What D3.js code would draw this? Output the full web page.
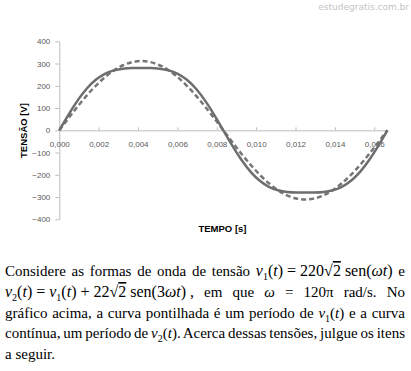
<!DOCTYPE html>
<html>
<head>
<meta charset="utf-8">
<script src="https://cdn.jsdelivr.net/npm/d3@7"></script>
<style>
  body { margin: 0; background: #fff; }
  svg { display: block; }
</style>
</head>
<body>
<div id="graph"></div>
<script>
"use strict";

var width = 411,
    height = 371;

// um período (1/60 s), amostras a cada 10 graus
const tempo = [0.000000, 0.000463, 0.000926, 0.001389, 0.001852, 0.002315, 0.002778, 0.003241,
    0.003704, 0.004167, 0.004630, 0.005093, 0.005556, 0.006019, 0.006481, 0.006944, 0.007407,
    0.007870, 0.008333, 0.008796, 0.009259, 0.009722, 0.010185, 0.010648, 0.011111, 0.011574,
    0.012037, 0.012500, 0.012963, 0.013426, 0.013889, 0.014352, 0.014815, 0.015278, 0.015741,
    0.016204, 0.016667];

// curva pontilhada
const tensaoV1 = [0, 54.0, 106.4, 155.6, 200.0, 238.3, 269.4, 292.4, 306.4, 311.1, 306.4, 292.4,
    269.4, 238.3, 200.0, 155.6, 106.4, 54.0, 0, -54.0, -106.4, -155.6, -200.0, -238.3, -269.4,
    -292.4, -306.4, -311.1, -306.4, -292.4, -269.4, -238.3, -200.0, -155.6, -106.4, -54.0, 0];

// curva contínua
const tensaoV2 = [0, 69.6, 133.3, 186.7, 226.9, 253.9, 269.4, 276.8, 279.5, 280.0, 279.5, 276.8,
    269.4, 253.9, 226.9, 186.7, 133.3, 69.6, 0, -69.6, -133.3, -186.7, -226.9, -253.9, -269.4,
    -276.8, -279.5, -280.0, -279.5, -276.8, -269.4, -253.9, -226.9, -186.7, -133.3, -69.6, 0];

const yDomain = [-400, 400];

// texto: [conteúdo, estilo]  n = normal, i = itálico, s = subscrito, m = fórmula, r = radicando
const paragrafo = [
    [["Considere as formas de onda de tensão ", "n"], ["v", "i"], ["1", "s"], ["(", "m"], ["t", "i"],
     [") = 220", "m"], ["√", "m"], ["2", "r"], [" sen(", "m"], ["ωt", "i"], [")", "m"], [" e", "n"]],
    [["v", "i"], ["2", "s"], ["(", "m"], ["t", "i"], [") = ", "m"], ["v", "i"], ["1", "s"], ["(", "m"],
     ["t", "i"], [") + 22", "m"], ["√", "m"], ["2", "r"], [" sen(3", "m"], ["ωt", "i"], [") ,", "m"],
     [" em que ", "n"], ["ω", "w"], [" = 120π rad/s. No", "n"]],
    [["gráfico acima, a curva pontilhada é um período de ", "n"], ["v", "i"], ["1", "s"], ["(", "n"],
     ["t", "i"], [") e a curva", "n"]],
    [["contínua, um período de ", "n"], ["v", "i"], ["2", "s"], ["(", "n"], ["t", "i"],
     ["). Acerca dessas tensões, julgue os itens", "n"]],
    [["a seguir.", "n"]]
];

let svg = d3.select("#graph")
    .append("svg")
    .attr("width", width)
    .attr("height", height);

svg.append("rect")
    .attr("width", width)
    .attr("height", height)
    .attr("fill", "#fff");

// marca d'água
svg.append("text")
    .attr("x", 409)
    .attr("y", 9.5)
    .attr("text-anchor", "end")
    .attr("font-family", "DejaVu Sans")
    .attr("font-size", 9)
    .attr("fill", "#c4c4c4")
    .text("estudegratis.com.br");

let x = d3.scaleLinear()
    .domain(d3.extent(tempo))
    .range([59.3, 387.4]);

let y = d3.scaleLinear()
    .domain(yDomain)
    .range([219.3, 41.3]);

let fmt = d3.format(".3f");

// eixo y
let yAxis = svg.append("g")
    .attr("transform", "translate(" + x(0) + ",0)")
    .call(d3.axisLeft(y).ticks(8).tickSizeInner(4).tickSizeOuter(0).tickPadding(5));
yAxis.select(".domain").attr("stroke", "#bdbdbd");
yAxis.selectAll(".tick line").attr("stroke", "#bdbdbd");
yAxis.selectAll("text")
    .attr("font-family", "Liberation Sans")
    .attr("font-size", 8)
    .attr("fill", "#595959");

// eixo x (cruza em 0)
let xAxis = svg.append("g")
    .attr("transform", "translate(0," + y(0) + ")")
    .call(d3.axisBottom(x).ticks(8).tickSizeInner(-3).tickSizeOuter(0).tickPadding(11.5)
        .tickFormat(d => fmt(d).replace(".", ",")));
xAxis.select(".domain").attr("stroke", "#bdbdbd");
xAxis.selectAll(".tick line").attr("stroke", "#bdbdbd");
xAxis.selectAll("text")
    .attr("font-family", "Liberation Sans")
    .attr("font-size", 8)
    .attr("fill", "#595959");

// títulos dos eixos
svg.append("text")
    .attr("transform", "translate(27,130.5) rotate(-90)")
    .attr("text-anchor", "middle")
    .attr("font-family", "Liberation Sans")
    .attr("font-weight", "bold")
    .attr("font-size", 9.5)
    .attr("fill", "#000")
    .text("TENSÃO [V]");

svg.append("text")
    .attr("x", 222.5)
    .attr("y", 232)
    .attr("text-anchor", "middle")
    .attr("font-family", "Liberation Sans")
    .attr("font-weight", "bold")
    .attr("font-size", 9.5)
    .attr("fill", "#000")
    .text("TEMPO [s]");

// curvas
let linha = function (valores) {
    return d3.line()
        .x((d, i) => x(tempo[i]))
        .y(d => y(d))
        .curve(d3.curveNatural)(valores);
};

svg.append("path")
    .attr("d", linha(tensaoV1))
    .attr("fill", "none")
    .attr("stroke", "#767676")
    .attr("stroke-width", 2.5)
    .attr("stroke-dasharray", "5,3");

svg.append("path")
    .attr("d", linha(tensaoV2))
    .attr("fill", "none")
    .attr("stroke", "#6e6e6e")
    .attr("stroke-width", 2.5);

// parágrafo justificado (só os espaços do texto normal se esticam)
let baselines = [276, 297, 317.5, 338, 358.5];

paragrafo.forEach(function (linhaTxt, li) {
    let t = svg.append("text")
        .attr("x", 5)
        .attr("y", baselines[li])
        .attr("font-family", "Liberation Serif")
        .attr("font-size", 15)
        .attr("fill", "#000");
    let sub = false;
    let normais = [];
    linhaTxt.forEach(function (seg) {
        let s = t.append("tspan").text(seg[0]);
        if (seg[1] == "i" || seg[1] == "w") s.attr("font-style", "italic");
        if (seg[1] == "m" || (seg[1] == "i" && li < 2)) s.attr("font-size", 16);
        if (seg[1] == "r") s.attr("font-size", 16).attr("text-decoration", "overline");
        if (seg[1] == "n") normais.push(s);
        if (seg[1] == "s") {
            s.attr("font-size", 10).attr("dy", 4);
            sub = true;
        } else if (sub) {
            s.attr("dy", -4);
            sub = false;
        }
    });
    if (li < paragrafo.length - 1) {
        let w = t.node().getComputedTextLength();
        let n = d3.sum(normais, s => (s.text().match(/ /g) || []).length);
        normais.forEach(s => s.attr("word-spacing", (400 - w) / n));
    }
});
</script>
</body>
</html>
